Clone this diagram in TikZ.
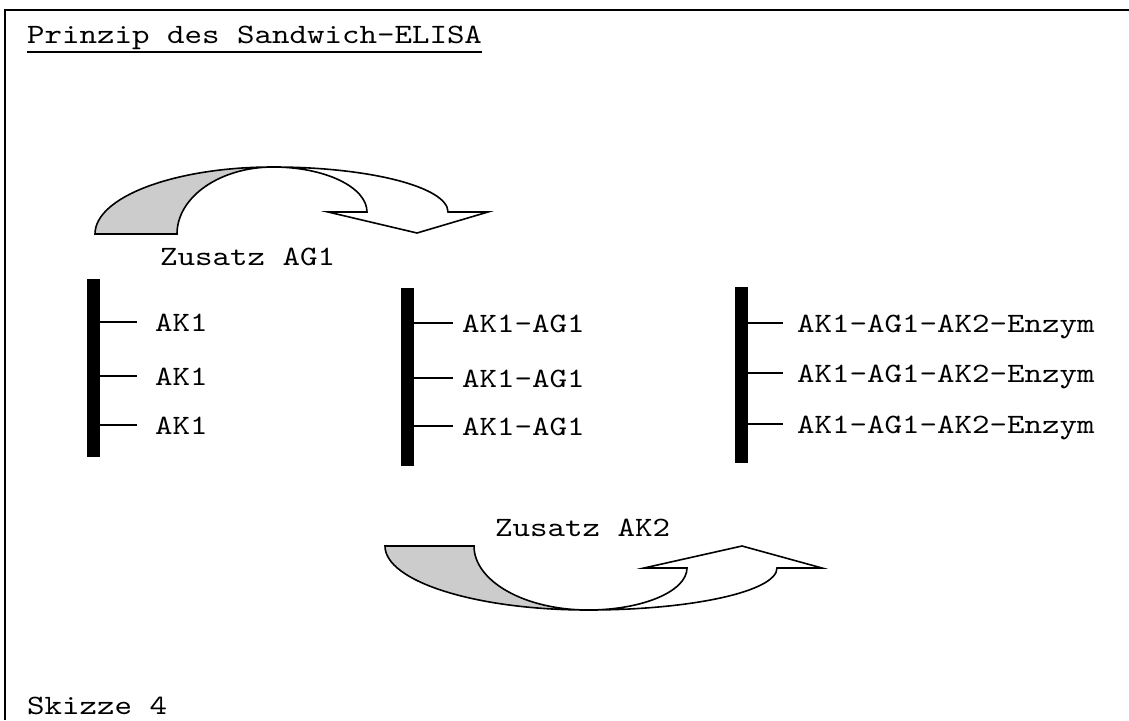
\documentclass[tikz,border=0pt]{standalone}
\usepackage{fontspec}
\newfontfamily\typefont{lmmono10-regular.otf}[FakeStretch=1.19]
\usetikzlibrary{positioning}
\definecolor{ribbonGrey}{HTML}{CCCCCC}

\begin{document}
\begin{tikzpicture}[
  x=1pt, y=-1pt,
  every node/.style={font=\typefont\fontsize{28}{34}\selectfont, inner sep=0pt},
  plate/.style={fill=black, draw=none, minimum width=13pt, inner sep=0pt},
  tag/.style={anchor=base west},
  stub/.style={line width=1.5pt},
  ribbon/.style={draw=black, line width=1.6pt}
]
\useasboundingbox (0,0) rectangle (1129,720);

% frame (top and left edge only)
\draw[line width=2pt] (5,720) -- (5,10) -- (1129,10);

\node[tag] (title) at (27,43) {Prinzip des Sandwich-ELISA};
\draw[line width=1.5pt] ([yshift=-9pt]title.base west) -- ([yshift=-9pt]title.base east);
\node[tag] (sketch) at (27,714) {Skizze 4};

% solid phase plates
\node[plate, minimum height=178pt] (plateA) at (93.5,368) {};
\node[plate, minimum height=178pt] (plateB) at (407.5,377) {};
\node[plate, minimum height=176pt] (plateC) at (741.5,375) {};

\node[tag] (akA1) at (155,331) {AK1};
\node[tag] (akA2) at (155,385) {AK1};
\node[tag] (akA3) at (155,434) {AK1};

\node[tag] (akB1) at (462,332) {AK1-AG1};
\node[tag] (akB2) at (462,387) {AK1-AG1};
\node[tag] (akB3) at (462,435) {AK1-AG1};

\node[tag] (akC1) at (797,332) {AK1-AG1-AK2-Enzym};
\node[tag] (akC2) at (797,382) {AK1-AG1-AK2-Enzym};
\node[tag] (akC3) at (797,433) {AK1-AG1-AK2-Enzym};

% binding sites
\draw[stub] (plateA.east |- akA1.base) ++(0,-9) -- ++(37,0);
\draw[stub] (plateA.east |- akA2.base) ++(0,-9) -- ++(37,0);
\draw[stub] (plateA.east |- akA3.base) ++(0,-9) -- ++(37,0);
\draw[stub] (plateB.east |- akB1.base) ++(0,-9) -- ++(39,0);
\draw[stub] (plateB.east |- akB2.base) ++(0,-9) -- ++(39,0);
\draw[stub] (plateB.east |- akB3.base) ++(0,-9) -- ++(39,0);
\draw[stub] (plateC.east |- akC1.base) ++(0,-9) -- ++(35,0);
\draw[stub] (plateC.east |- akC2.base) ++(0,-9) -- ++(35,0);
\draw[stub] (plateC.east |- akC3.base) ++(0,-9) -- ++(35,0);

% step arrows
\node[tag] (addAG) at (160,265) {Zusatz AG1};
\draw[ribbon, fill=white] (273,167) arc[start angle=270, end angle=360, x radius=175, y radius=45]
  -- (488,212) -- (417,233) -- (328,212) -- (367,212)
  arc[start angle=0, end angle=-90, x radius=94, y radius=45] -- cycle;
\draw[ribbon, fill=ribbonGrey] (95,234) arc[start angle=180, end angle=270, x radius=178, y radius=67]
  arc[start angle=270, end angle=180, x radius=96, y radius=67] -- cycle;

\node[tag] (addAK) at (495,536) {Zusatz AK2};
\draw[ribbon, fill=white] (588,610) arc[start angle=90, end angle=0, x radius=189, y radius=42]
  -- (822,568) -- (742,546) -- (644,568) -- (687,568)
  arc[start angle=0, end angle=90, x radius=99, y radius=42] -- cycle;
\draw[ribbon, fill=ribbonGrey] (385,546) -- (474,546)
  arc[start angle=180, end angle=90, x radius=114, y radius=64]
  arc[start angle=90, end angle=180, x radius=203, y radius=64] -- cycle;

\end{tikzpicture}
\end{document}
